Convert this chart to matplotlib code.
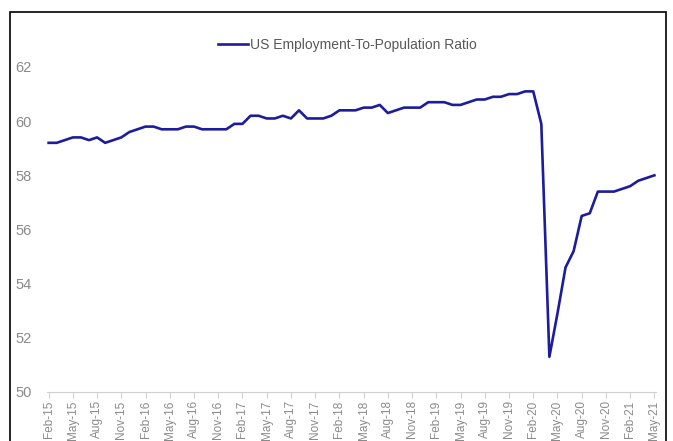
import matplotlib.pyplot as plt
from matplotlib.patches import Rectangle
import pandas as pd

# Monthly employment-to-population ratio, Feb-2015 .. May-2021
months = pd.date_range('2015-02-01', '2021-05-01', freq='MS')
ratio = [
    59.2, 59.2, 59.3, 59.4, 59.4, 59.3, 59.4, 59.2, 59.3, 59.4, 59.6,          # 2015
    59.7, 59.8, 59.8, 59.7, 59.7, 59.7, 59.8, 59.8, 59.7, 59.7, 59.7, 59.7,    # 2016
    59.9, 59.9, 60.2, 60.2, 60.1, 60.1, 60.2, 60.1, 60.4, 60.1, 60.1, 60.1,    # 2017
    60.2, 60.4, 60.4, 60.4, 60.5, 60.5, 60.6, 60.3, 60.4, 60.5, 60.5, 60.5,    # 2018
    60.7, 60.7, 60.7, 60.6, 60.6, 60.7, 60.8, 60.8, 60.9, 60.9, 61.0, 61.0,    # 2019
    61.1, 61.1, 59.9, 51.3, 52.9, 54.6, 55.2, 56.5, 56.6, 57.4, 57.4, 57.4,    # 2020
    57.5, 57.6, 57.8, 57.9, 58.0,                                              # 2021
]
tick_labels = [m.strftime('%b-%y') for m in months]
yticks = [50, 52, 54, 56, 58, 60, 62]

LINE_COLOR = '#1c1c9c'
GREY = '#8a8a8a'

plt.rcParams['font.family'] = ['Liberation Sans Narrow', 'Liberation Sans', 'DejaVu Sans']

fig = plt.figure(figsize=(6.73, 4.41), dpi=100)
W, H = 673, 441
ax = fig.add_axes([47 / W, (H - 392) / H, (656 - 47) / W, (392 - 67) / H])

x = list(range(len(ratio)))
ax.plot(x, ratio, color=LINE_COLOR, linewidth=1.9, solid_joinstyle='round',
        label='US Employment-To-Population Ratio')

ax.set_xlim(-0.2, len(ratio) - 1 + 0.2)
ax.set_ylim(50, 62)
ax.set_yticks(yticks)
ax.set_yticklabels([str(v) for v in yticks], color=GREY, fontsize=10.5)
ax.tick_params(axis='y', length=0, pad=11)

ax.set_xticks(x[::3])
ax.set_xticklabels(tick_labels[::3], rotation=90, color=GREY, fontsize=8.5)
ax.tick_params(axis='x', length=4, color='#d0d0d0', pad=2)

for side in ['top', 'right', 'left']:
    ax.spines[side].set_visible(False)
ax.spines['bottom'].set_color('#d0d0d0')

leg = fig.legend(loc='center', bbox_to_anchor=(347 / W, (H - 45) / H),
                 frameon=False, fontsize=10, handlelength=2.2, handletextpad=0.1)
for t in leg.get_texts():
    t.set_color('#595959')

# outer chart border, bottom edge runs off the image
fig.patches.append(Rectangle((10 / W, -0.05), (666 - 10) / W, (H - 12) / H + 0.05,
                             transform=fig.transFigure, fill=False,
                             edgecolor='black', linewidth=1.2))

fig.savefig('out.png', dpi=100)
